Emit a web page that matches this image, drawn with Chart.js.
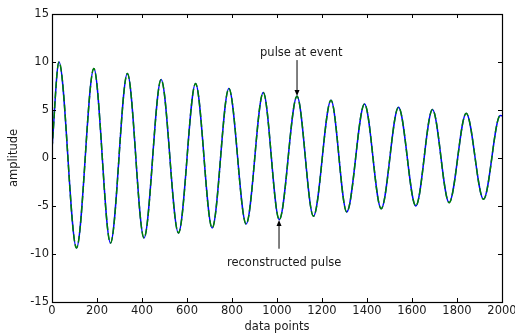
<!DOCTYPE html>
<html>
<head>
<meta charset="utf-8">
<script src="https://cdn.jsdelivr.net/npm/chart.js@4/dist/chart.umd.min.js"></script>
<style>
  html, body { margin: 0; padding: 0; background: #fff; }
  #wrap { width: 515px; height: 334px; }
</style>
</head>
<body>
<div id="wrap"><canvas id="c" width="515" height="334"></canvas></div>
<script>
// Data points (x positions of start, alternating peaks/troughs, end)
const dataPoints = [0, 31, 109, 186, 260, 335, 409, 485, 562, 638, 712, 786, 863, 939, 1010, 1089, 1162, 1240, 1310, 1389, 1463, 1540, 1617, 1691, 1765, 1841, 1918, 1992, 2000];
const pulseAtEvent = [1.0, 10.0, -9.37, 9.31, -8.85, 8.79, -8.33, 8.17, -7.81, 7.75, -7.29, 7.23, -6.87, 6.81, -6.42, 6.43, -6.07, 6.01, -5.62, 5.63, -5.28, 5.28, -5.0, 5.04, -4.65, 4.66, -4.3, 4.42, 4.4];
const reconstructedPulse = [1.0, 10.0, -9.37, 9.31, -8.85, 8.79, -8.33, 8.17, -7.81, 7.75, -7.29, 7.23, -6.87, 6.81, -6.42, 6.43, -6.07, 6.01, -5.62, 5.63, -5.28, 5.28, -5.0, 5.04, -4.65, 4.66, -4.3, 4.42, 4.4];
const xTicks = [0, 200, 400, 600, 800, 1000, 1200, 1400, 1600, 1800, 2000];
const yTicks = [-15, -10, -5, 0, 5, 10, 15];
const xTitle = 'data points';
const yTitle = 'amplitude';
const labelEvent = 'pulse at event';
const labelRecon = 'reconstructed pulse';

const FONT = 'DejaVu Sans';
const TXT = '#1a1a1a';

const toXY = (vals) => dataPoints.map((x, i) => ({ x: x, y: vals[i] }));

const framePlugin = {
  id: 'frame',
  afterDatasetsDraw(chart) {
    const { ctx, chartArea, scales } = chart;
    const { left, right, top, bottom } = chartArea;
    const xs = scales.x, ys = scales.y;
    ctx.save();
    ctx.strokeStyle = '#000';
    ctx.lineWidth = 1;
    ctx.beginPath();
    xTicks.forEach(v => {
      const px = Math.round(xs.getPixelForValue(v)) + 0.5;
      ctx.moveTo(px, bottom); ctx.lineTo(px, bottom - 4);
      ctx.moveTo(px, top); ctx.lineTo(px, top + 4);
    });
    yTicks.forEach(v => {
      const py = Math.round(ys.getPixelForValue(v)) + 0.5;
      ctx.moveTo(left, py); ctx.lineTo(left + 4, py);
      ctx.moveTo(right, py); ctx.lineTo(right - 4, py);
    });
    ctx.stroke();
    ctx.lineWidth = 1.2;
    ctx.strokeRect(Math.round(left) + 0.5, Math.round(top) + 0.5, Math.round(right - left), Math.round(bottom - top));

    // annotations
    const arrow = (x, y1, y2) => {
      const px = xs.getPixelForValue(x);
      const p1 = ys.getPixelForValue(y1);
      const p2 = ys.getPixelForValue(y2);
      const dir = p2 > p1 ? 1 : -1;
      ctx.strokeStyle = '#000';
      ctx.lineWidth = 1;
      ctx.beginPath();
      ctx.moveTo(px, p1); ctx.lineTo(px, p2 - dir * 4);
      ctx.stroke();
      ctx.fillStyle = '#000';
      ctx.beginPath();
      ctx.moveTo(px, p2);
      ctx.lineTo(px - 2.5, p2 - dir * 6);
      ctx.lineTo(px + 2.5, p2 - dir * 6);
      ctx.closePath();
      ctx.fill();
    };
    ctx.font = '11.5px "' + FONT + '"';
    ctx.fillStyle = TXT;
    ctx.textAlign = 'center';
    ctx.textBaseline = 'middle';
    ctx.fillText(labelEvent, xs.getPixelForValue(1108), ys.getPixelForValue(10.95));
    ctx.fillText(labelRecon, xs.getPixelForValue(1032), ys.getPixelForValue(-10.9));
    arrow(1089, 10.2, 6.45);
    arrow(1009, -9.45, -6.45);
    ctx.restore();
  }
};

new Chart(document.getElementById('c'), {
  type: 'line',
  data: {
    datasets: [
      {
        label: 'reconstructed pulse',
        data: toXY(reconstructedPulse),
        borderColor: '#008000',
        borderWidth: 1.5,
        borderDash: [7, 3],
        pointRadius: 0,
        fill: false,
        cubicInterpolationMode: 'monotone',
        order: 0
      },
      {
        label: 'pulse at event',
        data: toXY(pulseAtEvent),
        borderColor: '#0000ff',
        borderWidth: 1.5,
        pointRadius: 0,
        fill: false,
        cubicInterpolationMode: 'monotone',
        order: 1
      }
    ]
  },
  options: {
    responsive: false,
    animation: false,
    devicePixelRatio: 1,
    layout: { padding: { top: 14, right: 13, left: 0, bottom: 0 } },
    plugins: { legend: { display: false }, tooltip: { enabled: false } },
    scales: {
      x: {
        type: 'linear',
        min: 0, max: 2000,
        afterBuildTicks: (s) => { s.ticks = xTicks.map(v => ({ value: v })); },
        afterFit: (s) => { s.height = 32; s.paddingLeft = 0; s.paddingRight = 0; },
        grid: { display: false, drawTicks: false },
        border: { display: false },
        ticks: { padding: 2, color: TXT, font: { family: FONT, size: 11.5 }, maxRotation: 0, autoSkip: false, callback: (v) => String(v) },
        title: { display: true, text: xTitle, color: TXT, font: { family: FONT, size: 11.5 }, padding: 0 }
      },
      y: {
        type: 'linear',
        min: -15, max: 15,
        afterBuildTicks: (s) => { s.ticks = yTicks.map(v => ({ value: v })); },
        afterFit: (s) => { s.width = 52; s.paddingTop = 0; s.paddingBottom = 0; },
        grid: { display: false, drawTicks: false },
        border: { display: false },
        ticks: { padding: 3, color: TXT, font: { family: FONT, size: 11.5 }, autoSkip: false, callback: (v) => String(v) },
        title: { display: true, text: yTitle, color: TXT, font: { family: FONT, size: 11.5 }, padding: { top: 7 } }
      }
    }
  },
  plugins: [framePlugin]
});
</script>
</body>
</html>
